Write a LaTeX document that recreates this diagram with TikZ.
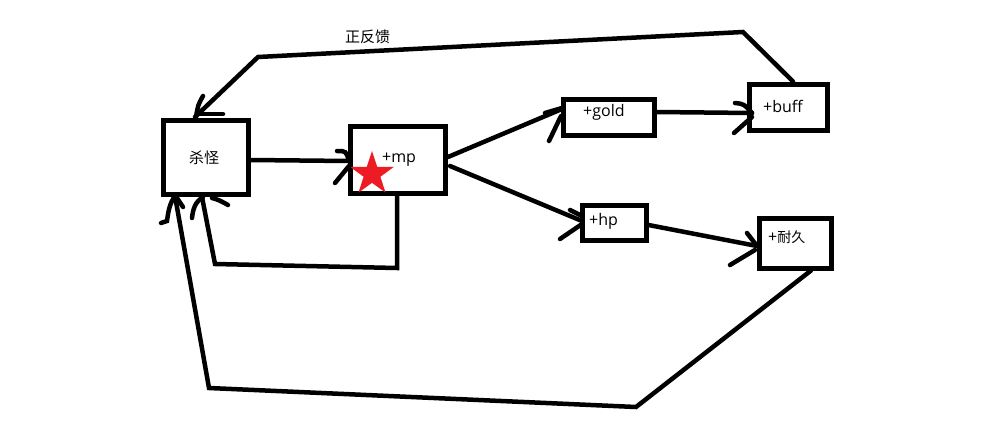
\documentclass[tikz,border=0pt]{standalone}
\usepackage{fontspec}
\setmainfont{Open Sans}
\newfontfamily\cjk{Noto Sans CJK SC}
\usetikzlibrary{calc,shapes.geometric}
\definecolor{paintred}{HTML}{ED1C24}
\begin{document}
\begin{tikzpicture}[x=1pt,y=-1pt,
  box/.style={draw=black,line width=5pt,rectangle,inner sep=0pt},
  lbl/.style={inner sep=0pt,anchor=base west,font=\fontsize{16}{19}\selectfont},
  cjklbl/.style={inner sep=0pt,anchor=base west,font=\fontsize{15}{18}\selectfont\cjk},
  wire/.style={draw=black,line width=4.5pt,line cap=round,line join=miter},
  barb/.style={draw=black,line width=4.5pt,line cap=round}]
\useasboundingbox[fill=white] (0,0) rectangle (990,431);

% boxes
\node[box,minimum width=85pt,minimum height=74pt] (kill) at (205.5,157) {};
\node[box,minimum width=95pt,minimum height=67pt] (mp) at (398,160) {};
\node[box,minimum width=91pt,minimum height=36pt] (gold) at (608.5,117) {};
\node[box,minimum width=78pt,minimum height=46pt] (buff) at (788,107) {};
\node[box,minimum width=64pt,minimum height=35pt] (hp) at (614,222.5) {};
\node[box,minimum width=72pt,minimum height=50pt] (dur) at (795,243) {};

% star on the +mp box
\node[star,star points=5,star point ratio=2.6,fill=paintred,inner sep=0pt,
      minimum size=46pt] (star) at (372,174) {};

% labels
\node[cjklbl] (tkill) at (189,163) {杀怪};
\node[lbl] (tmp) at (382,162) {+mp};
\node[lbl] (tgold) at (583,116) {+gold};
\node[lbl] (tbuff) at (763,112) {+buff};
\node[lbl] (thp) at (589,225) {+hp};
\node[lbl] (tdur) at (768,242) {+{\fontsize{14}{17}\selectfont\cjk 耐久}};
\node[cjklbl] (tfb) at (345,42) {正反馈};

% route points
\coordinate (fbA) at (743,32);
\coordinate (fbB) at (258,57);
\coordinate (tipTop) at (195,117);
\coordinate (mpA) at (397,268);
\coordinate (mpB) at (215,264);
\coordinate (tipMid) at (202,197);
\coordinate (durA) at (636,407);
\coordinate (durB) at (209,388);
\coordinate (tipLow) at (175,196);
\coordinate (tipMp) at (349,161);
\coordinate (tipGold) at (562,109);
\coordinate (tipHp) at (582,221);
\coordinate (tipBuff) at (752,113);
\coordinate (tipDur) at (757,246);

% connectors
\draw[wire] ($(kill.east)+(0,3)$) -- (tipMp);
\draw[wire] ($(mp.east)+(0,-3)$) -- (tipGold);
\draw[wire] ($(mp.east)+(2,6)$) -- (tipHp);
\draw[wire] ($(gold.east)+(0,-5)$) -- (tipBuff);
\draw[wire] ($(hp.east)+(0,2.5)$) -- (tipDur);
\draw[wire] ($(buff.north)+(5,0)$) -- (fbA) -- (fbB) -- (tipTop);
\draw[wire] ($(mp.south)+(-1,0)$) -- (mpA) -- (mpB) -- (tipMid);
\draw[wire] ($(dur.south)+(16,0)$) -- (durA) -- (durB) -- (tipLow);

% arrowheads
\draw[barb,shift={(tipMp)}] (-12,-10) .. controls (-3,-10) .. (0,0);
\draw[barb,shift={(tipMp)}] (-14,22) .. controls (-7,14) .. (0,5);
\draw[barb,shift={(tipGold)}] (-17,4) -- (0,-1);
\draw[barb,shift={(tipGold)}] (-13,32) -- (-1,7);
\draw[barb,shift={(tipHp)}] (-12,-11) -- (0,-5);
\draw[barb,shift={(tipHp)}] (-22,18) -- (0,3);
\draw[barb,shift={(tipBuff)}] (-17,-10) .. controls (-8,-9) .. (0,0);
\draw[barb,shift={(tipBuff)}] (-18,20) -- (0,4);
\draw[barb,shift={(tipDur)}] (-10,-13) -- (0,0);
\draw[barb,shift={(tipDur)}] (-27,19) -- (-2,4);
\draw[barb,shift={(tipTop)}] (8,-21) .. controls (3,-12) .. (1,0);
\draw[barb,shift={(tipTop)}] (28,-3) -- (3,-3);
\draw[barb,shift={(tipMid)}] (1,0) .. controls (-7,5) and (-9,12) .. (-10,21);
\draw[barb,shift={(tipMid)}] (10,1) .. controls (17,3) .. (26,8);
\draw[barb,shift={(tipLow)}] (0,0) .. controls (-6,8) and (-7,18) .. (-8,25) -- (-14,27);
\draw[barb,shift={(tipLow)}] (2,2) -- (8,11);
\end{tikzpicture}
\end{document}
